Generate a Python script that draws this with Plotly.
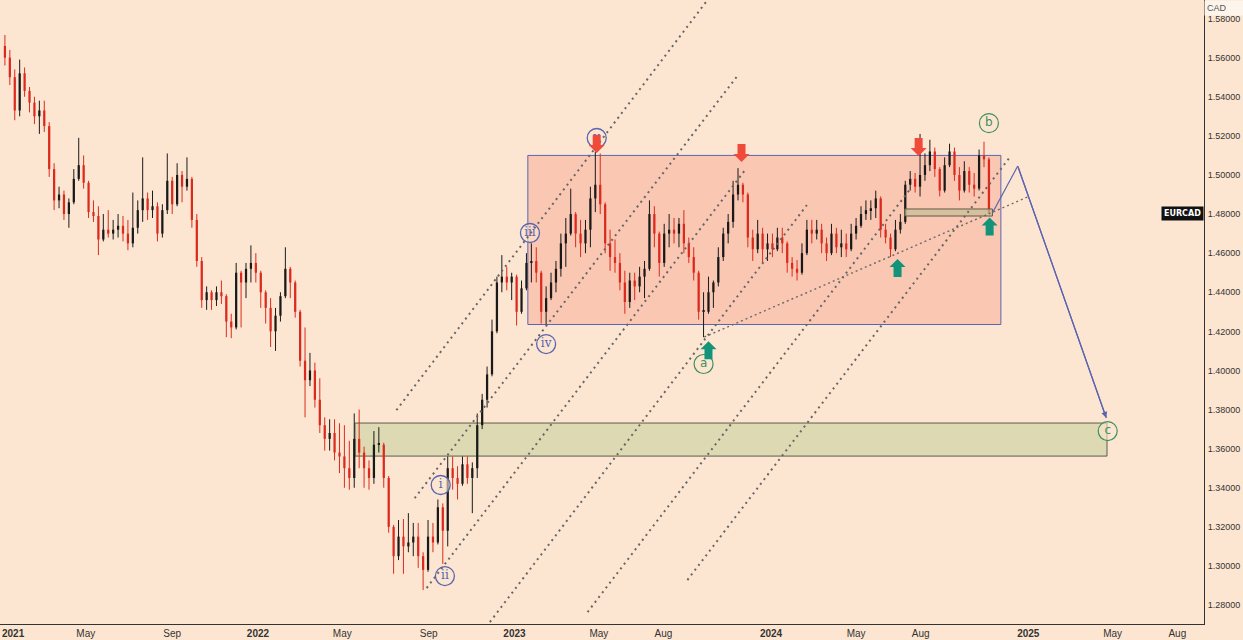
import pandas as pd
import plotly.graph_objects as go

# ---------------- weekly EURCAD data ----------------
week_start = "2021-01-06"
opens = [1.566,1.560,1.550,1.533,1.552,1.543,1.537,1.530,1.533,1.525,
         1.503,1.487,1.490,1.480,1.486,1.498,1.505,1.496,1.481,1.479,
         1.467,1.472,1.470,1.472,1.474,1.470,1.465,1.473,1.482,1.488,
         1.482,1.484,1.470,1.482,1.497,1.485,1.500,1.494,1.498,1.477,
         1.456,1.436,1.440,1.436,1.440,1.438,1.425,1.422,1.450,1.445,
         1.452,1.455,1.450,1.440,1.432,1.420,1.428,1.438,1.452,1.445,
         1.430,1.405,1.395,1.400,1.385,1.372,1.365,1.368,1.358,1.356,
         1.350,1.345,1.365,1.358,1.350,1.345,1.362,1.362,1.345,1.320,
         1.305,1.315,1.310,1.312,1.315,1.305,1.298,1.315,1.312,1.330,
         1.318,1.350,1.345,1.342,1.352,1.345,1.350,1.372,1.385,1.398,
         1.420,1.445,1.448,1.445,1.448,1.430,1.442,1.455,1.456,1.450,
         1.430,1.437,1.445,1.452,1.465,1.470,1.480,1.470,1.465,1.472,
         1.488,1.495,1.485,1.465,1.458,1.455,1.445,1.435,1.446,1.443,
         1.448,1.452,1.480,1.470,1.455,1.470,1.472,1.470,1.475,1.465,
         1.458,1.450,1.430,1.430,1.440,1.445,1.458,1.470,1.476,1.490,
         1.495,1.490,1.468,1.462,1.470,1.462,1.465,1.462,1.468,1.465,
         1.455,1.452,1.450,1.460,1.472,1.470,1.472,1.465,1.460,1.470,
         1.463,1.465,1.462,1.470,1.474,1.480,1.482,1.483,1.488,1.472,
         1.468,1.462,1.472,1.476,1.495,1.498,1.494,1.500,1.505,1.512,
         1.503,1.492,1.505,1.512,1.500,1.492,1.502,1.495,1.493,1.510,
         1.508]
highs = [1.5716,1.564,1.554,1.559,1.555,1.545,1.540,1.538,1.538,1.527,
         1.506,1.494,1.492,1.488,1.503,1.519,1.510,1.497,1.487,1.484,
         1.480,1.482,1.477,1.480,1.479,1.477,1.491,1.487,1.509,1.491,
         1.492,1.486,1.485,1.511,1.499,1.506,1.502,1.509,1.499,1.480,
         1.458,1.443,1.441,1.443,1.446,1.439,1.429,1.455,1.451,1.455,
         1.464,1.460,1.451,1.441,1.437,1.432,1.440,1.463,1.453,1.446,
         1.431,1.422,1.409,1.404,1.396,1.376,1.375,1.375,1.373,1.372,
         1.364,1.378,1.380,1.361,1.354,1.369,1.371,1.363,1.346,1.321,
         1.3235,1.324,1.327,1.322,1.322,1.307,1.3235,1.322,1.334,1.332,
         1.356,1.356,1.351,1.356,1.356,1.353,1.378,1.388,1.402,1.426,
         1.448,1.459,1.453,1.450,1.449,1.446,1.460,1.465,1.463,1.451,
         1.443,1.450,1.456,1.470,1.478,1.493,1.481,1.477,1.477,1.494,
         1.512,1.511,1.486,1.472,1.467,1.460,1.451,1.450,1.450,1.453,
         1.456,1.487,1.484,1.471,1.475,1.480,1.478,1.478,1.482,1.468,
         1.463,1.451,1.440,1.448,1.446,1.463,1.473,1.480,1.497,1.5035,
         1.496,1.491,1.472,1.477,1.473,1.470,1.470,1.473,1.473,1.466,
         1.458,1.4565,1.465,1.477,1.477,1.477,1.475,1.468,1.475,1.473,
         1.472,1.470,1.475,1.478,1.484,1.487,1.487,1.492,1.489,1.475,
         1.470,1.477,1.480,1.497,1.502,1.501,1.521,1.511,1.518,1.514,
         1.504,1.509,1.516,1.514,1.504,1.507,1.504,1.501,1.513,1.517,
         1.509]
lows = [1.556,1.546,1.528,1.530,1.540,1.532,1.526,1.521,1.522,1.499,
        1.482,1.483,1.477,1.473,1.485,1.497,1.493,1.478,1.476,1.459,
        1.466,1.468,1.467,1.468,1.466,1.4615,1.463,1.470,1.476,1.477,
        1.478,1.466,1.468,1.480,1.480,1.484,1.486,1.492,1.473,1.453,
        1.432,1.431,1.431,1.433,1.434,1.417,1.4165,1.421,1.422,1.437,
        1.445,1.445,1.432,1.424,1.412,1.410,1.425,1.437,1.437,1.427,
        1.402,1.376,1.392,1.381,1.368,1.359,1.359,1.354,1.3475,1.340,
        1.339,1.340,1.350,1.340,1.339,1.342,1.358,1.340,1.317,1.296,
        1.303,1.296,1.307,1.305,1.299,1.2877,1.297,1.307,1.311,1.301,
        1.310,1.339,1.334,1.341,1.342,1.327,1.345,1.370,1.381,1.397,
        1.419,1.440,1.441,1.436,1.423,1.429,1.441,1.445,1.445,1.424,
        1.4235,1.436,1.440,1.448,1.453,1.469,1.463,1.458,1.460,1.463,
        1.481,1.480,1.460,1.451,1.450,1.441,1.429,1.432,1.436,1.440,
        1.437,1.451,1.463,1.448,1.453,1.463,1.465,1.463,1.460,1.455,
        1.446,1.426,1.417,1.429,1.432,1.443,1.456,1.465,1.473,1.487,
        1.486,1.463,1.456,1.460,1.455,1.456,1.458,1.461,1.460,1.450,
        1.448,1.446,1.449,1.459,1.465,1.467,1.460,1.456,1.459,1.460,
        1.458,1.458,1.461,1.467,1.473,1.477,1.477,1.478,1.468,1.465,
        1.458,1.461,1.470,1.475,1.492,1.491,1.489,1.497,1.502,1.499,
        1.489,1.491,1.504,1.497,1.487,1.491,1.491,1.489,1.492,1.504,
        1.480]
closes = [1.560,1.550,1.533,1.552,1.543,1.537,1.530,1.533,1.525,1.503,
          1.487,1.490,1.480,1.486,1.498,1.505,1.496,1.481,1.479,1.467,
          1.472,1.470,1.472,1.474,1.470,1.465,1.473,1.482,1.488,1.482,
          1.484,1.470,1.482,1.497,1.485,1.500,1.494,1.498,1.477,1.456,
          1.436,1.440,1.436,1.440,1.438,1.425,1.422,1.450,1.445,1.452,
          1.455,1.450,1.440,1.432,1.420,1.428,1.438,1.452,1.445,1.430,
          1.405,1.395,1.400,1.385,1.372,1.365,1.368,1.358,1.356,1.350,
          1.345,1.365,1.358,1.350,1.345,1.362,1.362,1.345,1.320,1.305,
          1.315,1.310,1.312,1.315,1.305,1.298,1.315,1.312,1.330,1.318,
          1.350,1.345,1.342,1.352,1.345,1.350,1.372,1.385,1.398,1.420,
          1.445,1.448,1.445,1.448,1.430,1.442,1.455,1.456,1.450,1.430,
          1.437,1.445,1.452,1.465,1.470,1.480,1.470,1.465,1.472,1.488,
          1.495,1.485,1.465,1.458,1.455,1.445,1.435,1.446,1.443,1.448,
          1.452,1.480,1.470,1.455,1.470,1.472,1.470,1.475,1.465,1.458,
          1.450,1.430,1.430,1.440,1.445,1.458,1.470,1.476,1.490,1.495,
          1.490,1.468,1.462,1.470,1.462,1.465,1.462,1.468,1.465,1.455,
          1.452,1.450,1.460,1.472,1.470,1.472,1.465,1.460,1.470,1.463,
          1.465,1.462,1.470,1.474,1.480,1.482,1.483,1.488,1.472,1.468,
          1.462,1.472,1.476,1.495,1.498,1.494,1.500,1.505,1.512,1.503,
          1.492,1.505,1.512,1.500,1.492,1.502,1.495,1.493,1.510,1.508,
          1.4805]
dates = pd.date_range(week_start, periods=len(closes), freq="7D")

# ---------------- drawings (data coordinates) ----------------
range_box_x = ["2023-01-20", "2024-11-23"]
range_box_y = [1.4235, 1.5100]
support_zone_x = ["2022-05-19", "2025-04-23"]
support_zone_y = [1.3562, 1.3731]
small_zone_x = ["2024-07-09", "2024-11-11"]
small_zone_y = [1.4790, 1.4826]
projection_x = ["2024-11-11", "2024-12-17", "2025-04-22"]
projection_y = [1.4805, 1.5046, 1.3757]
channel_lines = [  # (x0, y0, x1, y1)
    ("2022-07-17", 1.3797, "2023-10-10", 1.5930),
    ("2022-08-12", 1.3347, "2023-11-15", 1.5511),
    ("2022-08-29", 1.2887, "2023-11-25", 1.5025),
    ("2022-11-27", 1.2713, "2024-02-21", 1.4846),
    ("2023-04-15", 1.2764, "2024-07-16", 1.4923),
    ("2023-09-04", 1.2928, "2024-12-06", 1.5092),
]
trend_line = ("2023-09-28", 1.4171, "2025-01-03", 1.4892)

wave_text = ["i", "ii", "iii", "iv", "v"]
wave_x = ["2022-09-18", "2022-09-24", "2023-01-23", "2023-02-15", "2023-04-28"]
wave_y = [1.3414, 1.2948, 1.4703, 1.4135, 1.5189]
abc_text = ["a", "b", "c"]
abc_x = ["2023-09-27", "2024-11-06", "2025-04-24"]
abc_y = [1.4033, 1.5265, 1.3690]
sell_x = ["2023-04-28", "2023-11-20", "2024-07-29"]
sell_y = [1.5112, 1.5066, 1.5097]
buy_x = ["2023-10-04", "2024-06-29", "2024-11-07"]
buy_y = [1.4150, 1.4570, 1.4782]

x_tick_vals = ["2021-01-01", "2021-05-01", "2021-09-01", "2022-01-01", "2022-05-01",
               "2022-09-01", "2023-01-01", "2023-05-01", "2023-08-01", "2024-01-01",
               "2024-05-01", "2024-08-01", "2025-01-01", "2025-05-01", "2025-08-01"]
x_tick_text = ["<b>2021</b>", "May", "Sep", "<b>2022</b>", "May", "Sep", "<b>2023</b>", "May",
               "Aug", "<b>2024</b>", "May", "Aug", "<b>2025</b>", "May", "Aug"]
y_ticks = [1.28, 1.30, 1.32, 1.34, 1.36, 1.38, 1.40, 1.42, 1.44, 1.46, 1.48,
           1.50, 1.52, 1.54, 1.56, 1.58]

BG = "#fde6d1"
BLUE = "#5a64b0"
GREEN = "#3f8f5f"
RED = "#f04a3a"
TEAL = "#12937a"
UP_COL = "#1a1a1a"
DOWN_COL = "#dc2a1f"
TICK_FONT = dict(size=10, color="#333", family="Liberation Sans")
Y_TICK_FONT = dict(size=9, color="#333", family="Liberation Sans")
BODY_MS = 3.2 * 24 * 3600 * 1000  # candle body width

fig = go.Figure()
# candles: wicks as line segments, bodies as floating bars
for rising, col in ((True, UP_COL), (False, DOWN_COL)):
    wx, wy, bx, bb, bh = [], [], [], [], []
    for d, o, h, l, c in zip(dates, opens, highs, lows, closes):
        if (c >= o) != rising:
            continue
        wx += [d, d, None]
        wy += [l, h, None]
        bx.append(d)
        bb.append(min(o, c))
        bh.append(max(abs(c - o), 0.0008))
    fig.add_trace(go.Scatter(x=wx, y=wy, mode="lines", line=dict(color=col, width=1),
                             showlegend=False, hoverinfo="skip"))
    fig.add_trace(go.Bar(x=bx, y=bh, base=bb, width=BODY_MS, marker=dict(color=col, line=dict(width=0)),
                         showlegend=False, hoverinfo="skip"))

shapes = []
shapes.append(dict(type="rect", xref="x", yref="y", x0=range_box_x[0], x1=range_box_x[1],
                   y0=range_box_y[0], y1=range_box_y[1], fillcolor="rgba(245,150,130,0.38)",
                   line=dict(color=BLUE, width=1), layer="below"))
shapes.append(dict(type="rect", xref="x", yref="y", x0=support_zone_x[0], x1=support_zone_x[1],
                   y0=support_zone_y[0], y1=support_zone_y[1], fillcolor="rgba(190,205,150,0.5)",
                   line=dict(color="#5e5a4a", width=1), layer="below"))
shapes.append(dict(type="rect", xref="x", yref="y", x0=small_zone_x[0], x1=small_zone_x[1],
                   y0=small_zone_y[0], y1=small_zone_y[1], fillcolor="rgba(200,190,150,0.7)",
                   line=dict(color="#5e5a4a", width=1), layer="above"))
for (x0, y0, x1, y1) in channel_lines:
    shapes.append(dict(type="line", xref="x", yref="y", x0=x0, y0=y0, x1=x1, y1=y1,
                       line=dict(color="#666666", width=2, dash="2px,4px"), layer="above"))
shapes.append(dict(type="line", xref="x", yref="y", x0=trend_line[0], y0=trend_line[1],
                   x1=trend_line[2], y1=trend_line[3],
                   line=dict(color="#6a6a6a", width=1.4, dash="2px,3px"), layer="above"))
for i in range(2):
    shapes.append(dict(type="line", xref="x", yref="y", x0=projection_x[i], y0=projection_y[i],
                       x1=projection_x[i + 1], y1=projection_y[i + 1],
                       line=dict(color=BLUE, width=1.2), layer="above"))
# block arrows (pixel-sized, anchored at the tip)
down_path = "M 0 0 L -8 8 L -4 8 L -4 18 L 4 18 L 4 8 L 8 8 Z"
up_path = "M 0 0 L -8 -8 L -4 -8 L -4 -18 L 4 -18 L 4 -8 L 8 -8 Z"
for x, y in zip(sell_x, sell_y):
    shapes.append(dict(type="path", xref="x", yref="y", xsizemode="pixel", ysizemode="pixel",
                       xanchor=x, yanchor=y, path=down_path, fillcolor=RED,
                       line=dict(width=0), layer="above"))
for x, y in zip(buy_x, buy_y):
    shapes.append(dict(type="path", xref="x", yref="y", xsizemode="pixel", ysizemode="pixel",
                       xanchor=x, yanchor=y, path=up_path, fillcolor=TEAL,
                       line=dict(width=0), layer="above"))

fig.add_trace(go.Scatter(x=wave_x, y=wave_y, mode="markers+text", text=wave_text,
                         textposition="middle center",
                         textfont=dict(color=BLUE, size=12, family="DejaVu Serif"),
                         marker=dict(symbol="circle", size=19, color="rgba(253,230,209,0.6)",
                                     line=dict(color=BLUE, width=1.3)),
                         showlegend=False, hoverinfo="skip"))
fig.add_trace(go.Scatter(x=abc_x, y=abc_y, mode="markers+text", text=abc_text,
                         textposition="middle center",
                         textfont=dict(color=GREEN, size=12, family="DejaVu Sans"),
                         marker=dict(symbol="circle", size=19, color="rgba(253,230,209,0.6)",
                                     line=dict(color=GREEN, width=1.2)),
                         showlegend=False, hoverinfo="skip"))
# arrow head at the end of projection
fig.add_annotation(x=projection_x[2], y=projection_y[2], ax=projection_x[1], ay=projection_y[1],
                   xref="x", yref="y", axref="x", ayref="y", text="", showarrow=True,
                   arrowhead=2, arrowsize=1, arrowwidth=1.2, arrowcolor=BLUE)
fig.add_annotation(xref="paper", yref="y", x=1, y=closes[-1], xanchor="right",
                   text="<b>EURCAD</b>", showarrow=False, bgcolor="#111111",
                   font=dict(color="white", size=8, family="DejaVu Sans"), borderpad=2)
fig.add_annotation(xref="paper", yref="paper", x=1.0, y=1.0, xanchor="left", yanchor="top",
                   text="CAD", showarrow=False, bgcolor="#fdf4ec", width=36, align="left",
                   font=dict(color="#555", size=9, family="Liberation Sans"), borderpad=2)
# first year label at the left edge
fig.add_annotation(xref="paper", yref="paper", x=0, y=0, xanchor="left", yanchor="top", yshift=-2,
                   text=x_tick_text[0], showarrow=False, font=TICK_FONT)

fig.update_layout(
    width=1243, height=640, margin=dict(l=0, r=39, t=0, b=16, autoexpand=False),
    paper_bgcolor=BG, plot_bgcolor=BG, shapes=shapes, barmode="overlay",
    font=dict(family="Liberation Sans", size=10, color="#333"),
    xaxis=dict(range=["2020-12-30", "2025-09-08"], type="date", automargin=False,
               tickvals=x_tick_vals[1:], ticktext=x_tick_text[1:], showgrid=False, zeroline=False,
               showline=True, linecolor="#333", linewidth=1, ticks="", tickfont=TICK_FONT),
    yaxis=dict(range=[1.2703, 1.5895], side="right", tickvals=y_ticks, tickformat=".5f",
               automargin=False,
               showgrid=False, zeroline=False, showline=True, linecolor="#333", linewidth=1,
               ticks="", ticklabelstandoff=1, tickfont=Y_TICK_FONT),
)
fig.write_html("out.html", config={"displayModeBar": False},
               post_script="document.body.style.margin='0';document.body.style.background='%s';" % BG)
